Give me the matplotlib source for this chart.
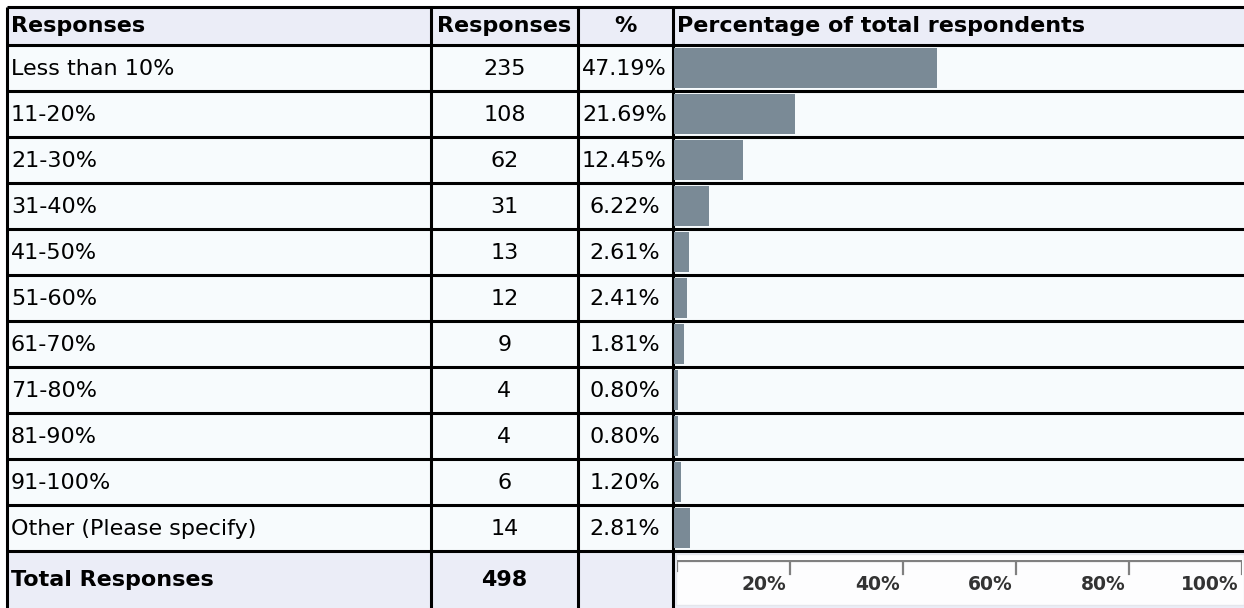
import matplotlib
matplotlib.use('Agg')
import matplotlib.pyplot as plt
from matplotlib.patches import Rectangle

# survey data
answers = ['Less than 10%', '11-20%', '21-30%', '31-40%', '41-50%', '51-60%',
           '61-70%', '71-80%', '81-90%', '91-100%', 'Other (Please specify)']
counts = [235, 108, 62, 31, 13, 12, 9, 4, 4, 6, 14]
pcts = [47.19, 21.69, 12.45, 6.22, 2.61, 2.41, 1.81, 0.80, 0.80, 1.20, 2.81]
total = 498
headers = ['Responses', 'Responses', '%', 'Percentage of total respondents']
scale_ticks = [0, 20, 40, 60, 80, 100]

W, H = 1244, 608
fig = plt.figure(figsize=(W / 100, H / 100), dpi=100)
ax = fig.add_axes([0, 0, 1, 1])
ax.set_xlim(0, W); ax.set_ylim(H, 0); ax.axis('off')

plt.rcParams['font.family'] = ['DejaVu Sans']
fs = 16

# table geometry (pixels)
cols = [7, 431, 578, 673, W + 2]
top, head_bot, row_h = 7, 45, 46
n = len(answers)
tot_top = head_bot + n * row_h

hdr_bg = '#ebedf7'
row_bg = '#f7fbfd'

ax.add_patch(Rectangle((cols[0], top), W, head_bot - top, fc=hdr_bg, ec='none'))
ax.add_patch(Rectangle((cols[0], head_bot), W, n * row_h, fc=row_bg, ec='none'))
ax.add_patch(Rectangle((cols[0], tot_top), W, H - tot_top, fc=hdr_bg, ec='none'))
ax.add_patch(Rectangle((676, tot_top + 3), W - 676, H - tot_top - 6, fc='#fdfdfe',
                       ec='#e4e6ec', lw=1))

# grid lines
ax.hlines([top, head_bot] + [head_bot + (i + 1) * row_h for i in range(n)],
          cols[0], W, color='black', lw=2.2)
ax.vlines(cols[:4], top, H, color='black', lw=2.2)

# header
hy = (top + head_bot) / 2
ax.text(11, hy, headers[0], fontsize=fs, weight='bold', va='center')
ax.text((cols[1] + cols[2]) / 2, hy, headers[1], fontsize=fs, weight='bold',
        va='center', ha='center')
ax.text((cols[2] + cols[3]) / 2, hy, headers[2], fontsize=fs, weight='bold',
        va='center', ha='center')
ax.text(677, hy, headers[3], fontsize=fs, weight='bold', va='center')

for i, (a, c, p) in enumerate(zip(answers, counts, pcts)):
    y = head_bot + (i + 0.5) * row_h + 1
    ax.text(11, y, a, fontsize=fs, va='center')
    ax.text((cols[1] + cols[2]) / 2, y, str(c), fontsize=fs, va='center', ha='center')
    ax.text((cols[2] + cols[3]) / 2 - 1, y, f'{p:.2f}%', fontsize=fs, va='center',
            ha='center')

ty = (tot_top + H) / 2
ax.text(11, ty, 'Total Responses', fontsize=fs, weight='bold', va='center')
ax.text((cols[1] + cols[2]) / 2, ty, str(total), fontsize=fs, weight='bold',
        va='center', ha='center')

# bars
px_per_pct = 5.58
bx = fig.add_axes([674 / W, (H - tot_top) / H, 100 * px_per_pct / W, n * row_h / H])
bx.barh(range(n), pcts, height=0.87, color='#7a8a96', left=0)
bx.set_xlim(0, 100); bx.set_ylim(n - 0.5, -0.5)
bx.axis('off')

# scale in the total row
sx = fig.add_axes([677 / W, (H - 600) / H, 565 / W, 40 / H])
sx.set_xlim(0, 100); sx.set_ylim(40, 0); sx.axis('off')
sx.plot([0, 100], [1, 1], color='#808080', lw=1.6, solid_capstyle='butt')
for t in scale_ticks:
    sx.plot([t, t], [1, 11 if t == 0 else 14], color='#808080', lw=1.6)
    if t > 0:
        sx.text(t - 0.6, 24, f'{t}%', fontsize=13.5, weight='bold', color='#333333',
                ha='right', va='center')

fig.savefig('out.png', dpi=100, facecolor='white')
